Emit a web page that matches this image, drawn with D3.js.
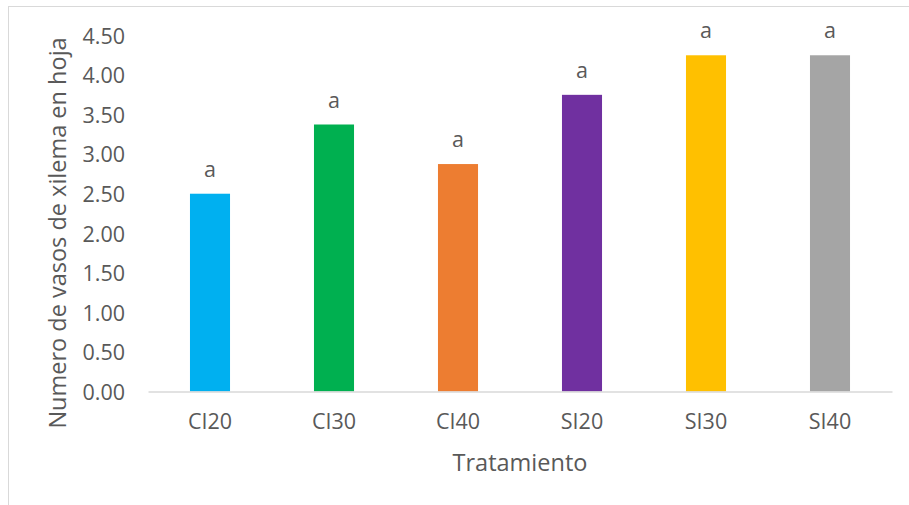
<!DOCTYPE html>
<html lang="es">
<head>
<meta charset="UTF-8">
<title>Numero de vasos de xilema en hoja</title>
<script src="https://cdn.jsdelivr.net/npm/d3@7"></script>
<style>
    body { margin: 0; padding: 0; background: #fff; }
    svg text { font-family: 'Open Sans', sans-serif; fill: #595959; }
</style>
</head>
<body>
<svg id="chart" width="909" height="505"></svg>
<script>
    // datos del grafico
    const categorias = ["CI20", "CI30", "CI40", "SI20", "SI30", "SI40"];
    const valores = [2.50, 3.375, 2.875, 3.75, 4.25, 4.25];
    const letras = ["a", "a", "a", "a", "a", "a"];
    const colores = ["#00B0F0", "#00B050", "#ED7D31", "#7030A0", "#FFC000", "#A5A5A5"];
    const ticksY = [0, 0.5, 1, 1.5, 2, 2.5, 3, 3.5, 4, 4.5];

    const svg = d3.select("#chart");
    const margin = { top: 35.5, right: 17, bottom: 113.5, left: 148 };
    const width = 909 - margin.left - margin.right;
    const height = 505 - margin.top - margin.bottom;

    // marco del area del grafico
    svg.append("rect")
        .attr("x", 8.5).attr("y", 6.5)
        .attr("width", 920).attr("height", 520)
        .attr("fill", "none")
        .attr("stroke", "#D9D9D9");

    const g = svg.append("g").attr("transform", `translate(${margin.left},${margin.top})`);

    const x = d3.scaleBand()
        .domain(categorias)
        .range([0, width])
        .paddingInner(0.677)
        .paddingOuter(0.3385);

    const y = d3.scaleLinear().domain([0, 4.5]).range([height, 0]);

    // eje y (solo etiquetas)
    const yAxis = g.append("g")
        .call(d3.axisLeft(y).tickValues(ticksY).tickFormat(d3.format(".2f")).tickSize(0).tickPadding(23));
    yAxis.select(".domain").remove();
    yAxis.selectAll("text").style("font-size", "21.5px").attr("dy", "0.36em");

    // barras
    g.selectAll(".bar")
        .data(valores)
        .enter().append("rect")
        .attr("class", "bar")
        .attr("x", (d, i) => x(categorias[i]))
        .attr("y", d => y(d))
        .attr("width", x.bandwidth())
        .attr("height", d => height - y(d))
        .attr("fill", (d, i) => colores[i]);

    // letras de significancia
    g.selectAll(".letra")
        .data(valores)
        .enter().append("text")
        .attr("class", "letra")
        .attr("x", (d, i) => x(categorias[i]) + x.bandwidth() / 2)
        .attr("y", d => y(d) - 17)
        .attr("text-anchor", "middle")
        .style("font-size", "21.5px")
        .text((d, i) => letras[i]);

    // eje x
    const xAxis = g.append("g")
        .attr("transform", `translate(0,${height})`)
        .call(d3.axisBottom(x).tickSize(0).tickPadding(22));
    xAxis.select(".domain").attr("stroke", "#D9D9D9").attr("stroke-width", 1.5);
    xAxis.selectAll("text").style("font-size", "21.5px");

    // titulos de ejes
    svg.append("text")
        .attr("x", margin.left + width / 2)
        .attr("y", 471)
        .attr("text-anchor", "middle")
        .style("font-size", "23.5px")
        .text("Tratamiento");

    svg.append("text")
        .attr("transform", "translate(66,233) rotate(-90)")
        .attr("text-anchor", "middle")
        .style("font-size", "23.5px")
        .text("Numero de vasos de xilema en hoja");
</script>
</body>
</html>
